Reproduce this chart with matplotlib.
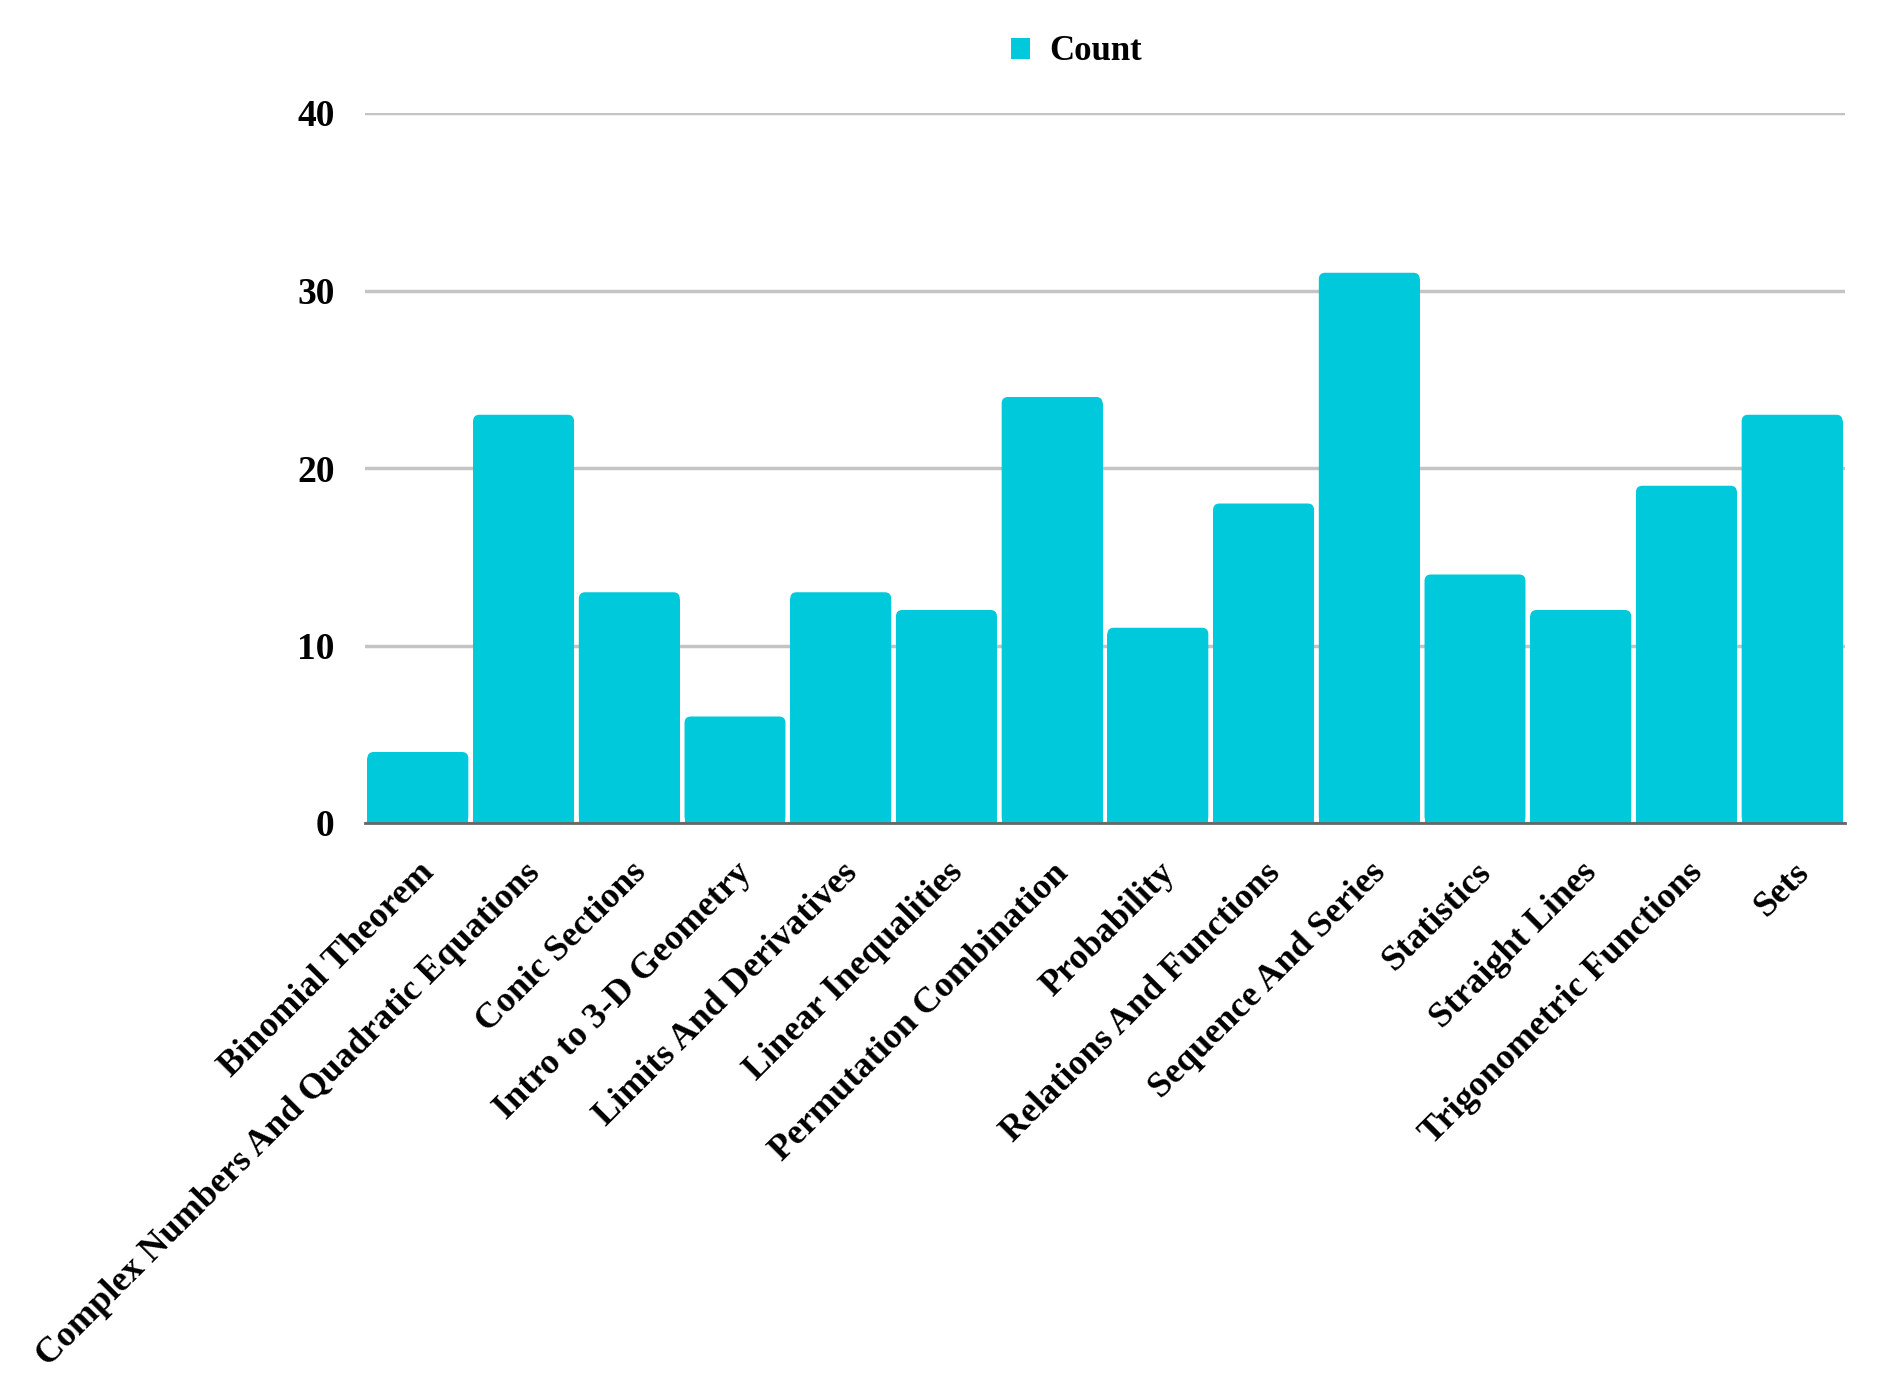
import numpy as np
import matplotlib
matplotlib.use("Agg")
import matplotlib.pyplot as plt
from matplotlib.patches import FancyBboxPatch

# data
topics = ["Binomial Theorem", "Complex Numbers And Quadratic Equations",
          "Conic Sections", "Intro to 3-D Geometry", "Limits And Derivatives",
          "Linear Inequalities", "Permutation Combination", "Probability",
          "Relations And Functions", "Sequence And Series", "Statistics",
          "Straight Lines", "Trigonometric Functions", "Sets"]
counts = [4, 23, 13, 6, 13, 12, 24, 11, 18, 31, 14, 12, 19, 23]
yticks = [0, 10, 20, 30, 40]

bar_color = "#00c9dc"
plt.rcParams["font.family"] = ["Liberation Serif", "DejaVu Serif"]
plt.rcParams["font.weight"] = "bold"

fig = plt.figure(figsize=(18.81, 13.76), dpi=100)
ax = fig.add_axes([365/1881, 1 - 823/1376, 1480/1881, 710/1376])

x = np.arange(len(topics))
width = 0.955
r = 0.06       # corner radius in x units
aspect = 6.0   # y units per x unit on screen

bars = ax.bar(x, counts, width=width, color=bar_color, zorder=2, label="Count")
for b in bars:
    h = b.get_height()
    # square bottom part, rounded top
    b.set_height(max(h - r * aspect, 0))
    fb = FancyBboxPatch((b.get_x(), 0), width, h,
                        boxstyle=f"round,pad=0,rounding_size={r}",
                        mutation_aspect=aspect, facecolor=bar_color,
                        edgecolor="none", zorder=2)
    ax.add_patch(fb)

ax.set_xlim(-0.5, len(topics) - 0.5)
ax.set_ylim(0, 40)
ax.set_yticks(yticks)
ax.set_yticklabels([str(v) for v in yticks], fontsize=27, fontweight="bold")
ax.yaxis.grid(True, color="#c4c4c4", linewidth=2.5, zorder=1)
ax.set_axisbelow(True)
ax.tick_params(axis="y", length=0, pad=22)
ax.tick_params(axis="x", length=0, pad=24)

ax.set_xticks(x)
ax.set_xticklabels(topics, rotation=45, ha="right", rotation_mode="anchor",
                   fontsize=26, fontweight="bold")

for s in ["top", "right", "left"]:
    ax.spines[s].set_visible(False)
ax.spines["bottom"].set_color("#666666")
ax.spines["bottom"].set_linewidth(2)
ax.spines["bottom"].set_zorder(3)

fig.legend(handles=[bars], labels=["Count"], loc="center",
           bbox_to_anchor=(1076/1881, 1 - 52/1376), frameon=False,
           fontsize=25, handlelength=0.55, handleheight=0.55, handletextpad=0.55)

fig.savefig("out.png", dpi=100)
